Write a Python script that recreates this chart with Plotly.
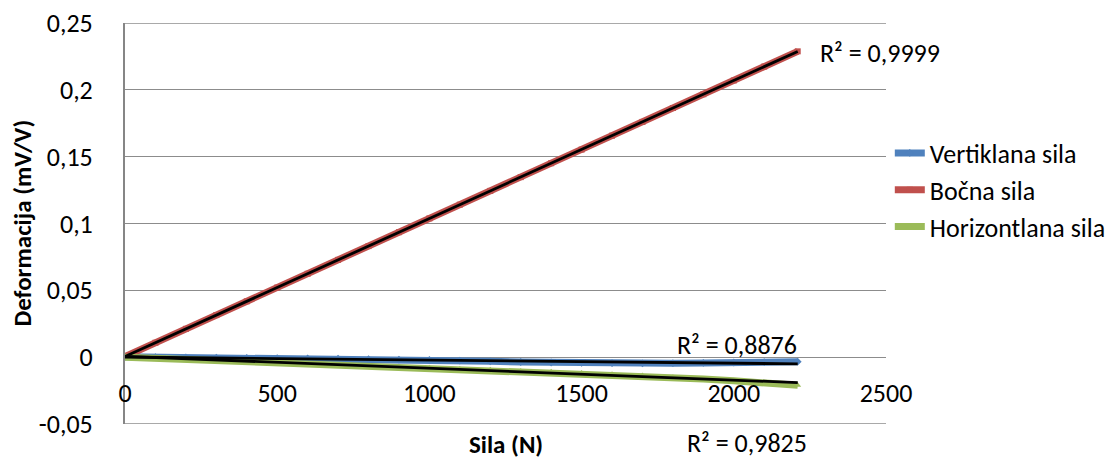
import numpy as np
import plotly.graph_objects as go

# ---- data ----
sila = [0, 100, 200, 300, 400, 500, 600, 700, 800, 900, 1000, 1100,
        1200, 1300, 1400, 1500, 1600, 1700, 1800, 1900, 2000, 2100, 2210]

vertikalna = [0.0003, 0.0001, -0.0002, -0.0004, -0.0006, -0.0008, -0.0010,
              -0.0012, -0.0015, -0.0018, -0.0021, -0.0026, -0.0031, -0.0036,
              -0.0040, -0.0043, -0.0045, -0.0046, -0.0045, -0.0043, -0.0040,
              -0.0037, -0.0034]

bocna = [0.0005, 0.0108, 0.0212, 0.0315, 0.0418, 0.0521, 0.0624, 0.0728,
         0.0831, 0.0935, 0.1038, 0.1141, 0.1244, 0.1347, 0.1451, 0.1553,
         0.1657, 0.1760, 0.1864, 0.1967, 0.2070, 0.2174, 0.2288]

horizontalna = [0.0, -0.0008, -0.0016, -0.0024, -0.0032, -0.0040, -0.0049,
                -0.0057, -0.0065, -0.0072, -0.0080, -0.0088, -0.0095, -0.0103,
                -0.0110, -0.0118, -0.0127, -0.0138, -0.0150, -0.0163, -0.0177,
                -0.0192, -0.0210]

series_names = ["Vertiklana sila", "Bočna sila", "Horizontlana sila"]
series_colors = ["#4F81BD", "#C0504D", "#9BBB59"]
series_symbols = ["diamond", "square", "triangle-up"]

x_tickvals = [0, 500, 1000, 1500, 2000, 2500]
x_ticktext = ["0", "500", "1000", "1500", "2000", "2500"]
y_tickvals = [-0.05, 0, 0.05, 0.1, 0.15, 0.2, 0.25]
y_ticktext = ["-0,05", "0", "0,05", "0,1", "0,15", "0,2", "0,25"]
y_range = [-0.05, 0.25]

# R² labels: (text, x in data units, y, y reference)
r2_labels = [("R² = 0,8876", 1807, 0.0091, "y"),
             ("R² = 0,9999", 2277, 0.2276, "y"),
             ("R² = 0,9825", 1840, -0.0474, "paper")]

FONT = "Carlito, Calibri, Lato, sans-serif"
FS = 26
GRID = "#8c8c8c"

fig = go.Figure()
all_series = [vertikalna, bocna, horizontalna]
for i, ys in enumerate(all_series):
    fig.add_trace(go.Scatter(
        x=sila, y=ys, mode="lines+markers", name=series_names[i],
        line=dict(color=series_colors[i], width=7),
        marker=dict(color=series_colors[i], size=6, symbol=series_symbols[i]),
        legendgroup=str(i),
    ))

# linear trendlines (least squares fit of each series)
xs = np.array(sila, dtype=float)
for i, ys in enumerate(all_series):
    k, b = np.polyfit(xs, np.array(ys), 1)
    xe = [xs[0], xs[-1]]
    fig.add_trace(go.Scatter(
        x=xe, y=[k * v + b for v in xe], mode="lines",
        line=dict(color="black", width=2.8), showlegend=False,
        hoverinfo="skip",
    ))

for t, ax, ay, yr in r2_labels:
    fig.add_annotation(x=ax, y=ay, xref="x", yref=yr, text=t,
                       showarrow=False, xanchor="left", yanchor="middle",
                       font=dict(family=FONT, size=FS, color="black"))

fig.add_annotation(x=0.5, y=-0.052, xref="paper", yref="paper",
                   text="<b>Sila (N)</b>", showarrow=False,
                   xanchor="center", yanchor="middle",
                   font=dict(family=FONT, size=25, color="black"))
fig.add_annotation(x=-0.1353, y=0.5, xref="paper", yref="paper",
                   text="<b>Deformacija (mV/V)</b>", showarrow=False,
                   textangle=-90, xanchor="center", yanchor="middle",
                   font=dict(family=FONT, size=25, color="black"))

# edge gridlines (top and bottom of the plot area)
for yv in y_range:
    fig.add_shape(type="line", xref="paper", yref="y", x0=0, x1=1,
                  y0=yv, y1=yv, line=dict(color=GRID, width=1.5),
                  layer="below")

# the page body adds an 8px offset; compensate in size and margins
fig.update_layout(
    width=1105, height=451,
    margin=dict(l=117, r=227, t=15, b=35, autoexpand=False),
    paper_bgcolor="white", plot_bgcolor="white",
    font=dict(family=FONT, size=FS, color="black"),
    showlegend=True,
    legend=dict(x=1.005, xanchor="left", y=0.5835, yanchor="middle",
                bgcolor="rgba(0,0,0,0)", font=dict(family=FONT, size=FS),
                tracegroupgap=0, traceorder="grouped"),
    xaxis=dict(range=[0, 2500], tickvals=x_tickvals, ticktext=x_ticktext,
               showgrid=False, zeroline=False, showline=False,
               anchor="free", position=1 / 6, ticks="",
               ticklabelstandoff=18, tickfont=dict(size=FS),
               ticklabeloverflow="allow"),
    yaxis=dict(range=y_range, tickvals=y_tickvals, ticktext=y_ticktext,
               showgrid=True, gridcolor=GRID, gridwidth=1.3,
               zeroline=False, showline=True, linecolor="#868686",
               linewidth=2, ticks="", ticklabelstandoff=25,
               tickfont=dict(size=FS), ticklabeloverflow="allow"),
)

fig.write_html("out.html")
